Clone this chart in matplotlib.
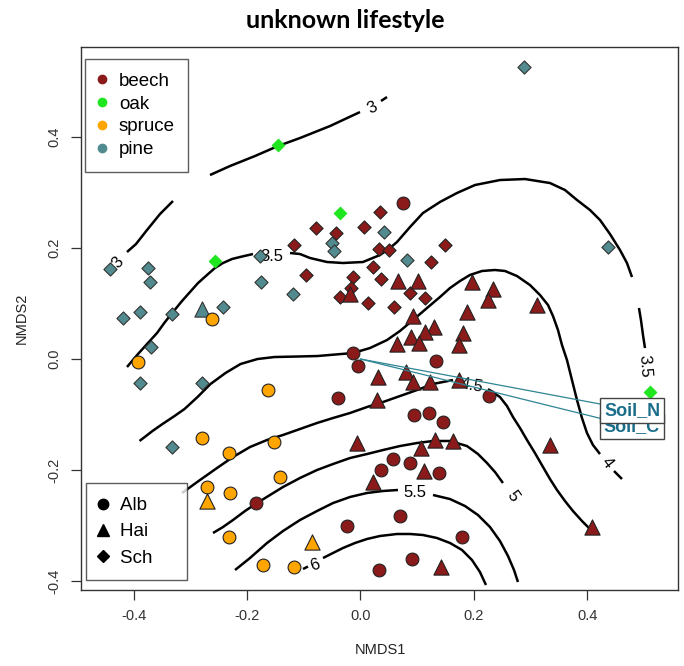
import matplotlib
matplotlib.use('Agg')
import matplotlib.pyplot as plt
from matplotlib.lines import Line2D

plt.rcParams['font.family'] = ['Liberation Sans', 'DejaVu Sans']

# NMDS site scores, by tree species and region (Alb = circle, Hai = triangle, Sch = diamond)
beech_alb_x = [0.075, -0.013, -0.004, 0.134, 0.227, 0.094, 0.121, 0.145, -0.039, 0.087,
               0.139, 0.057, 0.037, -0.184, 0.070, -0.023, 0.091, 0.032, 0.179]
beech_alb_y = [0.281, 0.010, -0.013, -0.004, -0.067, -0.101, -0.097, -0.114, -0.071, -0.187,
               -0.206, -0.181, -0.200, -0.259, -0.283, -0.300, -0.360, -0.380, -0.321]
beech_hai_x = [0.067, 0.102, -0.019, 0.196, 0.234, 0.225, 0.311, 0.188, 0.092, 0.129, 0.114,
               0.181, 0.090, 0.103, 0.064, 0.174, 0.031, 0.081, 0.093, 0.123, 0.174, 0.029,
               0.335, 0.106, 0.132, 0.163, 0.112, -0.007, 0.022, 0.142, 0.409]
beech_hai_y = [0.141, 0.141, 0.117, 0.139, 0.126, 0.107, 0.097, 0.085, 0.077, 0.057, 0.048,
               0.046, 0.040, 0.028, 0.027, 0.025, -0.033, -0.024, -0.041, -0.041, -0.037, -0.073,
               -0.155, -0.160, -0.146, -0.148, -0.201, -0.152, -0.221, -0.374, -0.303]
beech_sch_x = [0.034, -0.079, -0.043, 0.007, -0.117, 0.032, 0.051, 0.149, 0.124, -0.097,
               0.022, -0.013, 0.037, -0.017, -0.036, 0.088, 0.114, 0.014, 0.059]
beech_sch_y = [0.265, 0.236, 0.227, 0.238, 0.205, 0.199, 0.197, 0.205, 0.175, 0.151,
               0.165, 0.148, 0.144, 0.128, 0.111, 0.119, 0.110, 0.101, 0.093]
pine_sch_x = [0.289, 0.437, 0.042, -0.051, -0.046, 0.082, -0.120, -0.177, -0.176, -0.243,
              -0.333, -0.390, -0.420, -0.443, -0.376, -0.372, -0.369, -0.390, -0.279, -0.332]
pine_sch_y = [0.526, 0.201, 0.228, 0.209, 0.195, 0.178, 0.118, 0.186, 0.139, 0.094,
              0.081, 0.085, 0.074, 0.162, 0.164, 0.138, 0.021, -0.043, -0.043, -0.159]
pine_hai_x = [-0.279]
pine_hai_y = [0.091]
spruce_alb_x = [-0.262, -0.392, -0.163, -0.280, -0.232, -0.153, -0.142, -0.271, -0.230,
                -0.232, -0.172, -0.117]
spruce_alb_y = [0.072, -0.006, -0.056, -0.143, -0.170, -0.149, -0.213, -0.230, -0.242,
                -0.321, -0.371, -0.374]
spruce_hai_x = [-0.271, -0.086]
spruce_hai_y = [-0.255, -0.329]
oak_sch_x = [-0.145, -0.037, -0.257, 0.511]
oak_sch_y = [0.385, 0.263, 0.177, -0.059]

# fitted environmental vectors
soil_names = ['Soil_C', 'Soil_N']
soil_x = [0.479, 0.480]
soil_y = [-0.121, -0.092]

# ordisurf contour pieces (x list, y list)
contours = [
    ([-0.2657, -0.2304, -0.1862, -0.1456, -0.1068, -0.0538, -0.0009],
     [0.3315, 0.3477, 0.3658, 0.3838, 0.3982, 0.4198, 0.4450]),
    ([0.0362, 0.0468], [0.4649, 0.4721]),
    ([-0.3310, -0.3539, -0.3769, -0.3963, -0.4122],
     [0.2847, 0.2613, 0.2324, 0.2072, 0.1928]),
    ([-0.4122, -0.3928, -0.3769, -0.3592, -0.3451, -0.3310, -0.3151, -0.3010, -0.2868,
      -0.2710, -0.2569, -0.2427, -0.2268, -0.2127, -0.1898],
     [-0.0144, 0.0090, 0.0270, 0.0468, 0.0667, 0.0847, 0.1045, 0.1207, 0.1369,
      0.1514, 0.1640, 0.1730, 0.1802, 0.1838, 0.1892]),
    ([-0.1244, -0.1068, -0.0891, -0.0591, -0.0309, 0.0044, 0.0344, 0.0521, 0.0644, 0.0874,
      0.1103, 0.1403, 0.1703, 0.2021, 0.2462, 0.2904, 0.3345, 0.3610, 0.3822, 0.4051,
      0.4228, 0.4404, 0.4581, 0.4704, 0.4793],
     [0.1910, 0.1892, 0.1820, 0.1748, 0.1730, 0.1748, 0.1874, 0.2000, 0.2108, 0.2378,
      0.2631, 0.2829, 0.2991, 0.3135, 0.3225, 0.3243, 0.3171, 0.3045, 0.2865, 0.2685,
      0.2505, 0.2252, 0.1964, 0.1730, 0.1477]),
    ([0.4916, 0.4951, 0.4987, 0.5022], [0.0919, 0.0703, 0.0432, 0.0198]),
    ([-0.3901, -0.3672, -0.3495, -0.3283, -0.3107, -0.2877, -0.2648, -0.2383, -0.2118,
      -0.1818, -0.1518, -0.1112, -0.0759, -0.0132, 0.0168, 0.0468, 0.0697, 0.0927, 0.1174,
      0.1403, 0.1580, 0.1756, 0.1932, 0.2145, 0.2374, 0.2551, 0.2763, 0.2992, 0.3169,
      0.3310, 0.3398, 0.3486, 0.3557, 0.3645, 0.3733, 0.3822, 0.3910, 0.3998, 0.4104,
      0.4228],
     [-0.1477, -0.1297, -0.1171, -0.1027, -0.0901, -0.0685, -0.0450, -0.0252, -0.0090,
      0.0000, 0.0036, 0.0045, 0.0054, 0.0108, 0.0198, 0.0342, 0.0505, 0.0703, 0.0919,
      0.1117, 0.1279, 0.1405, 0.1514, 0.1586, 0.1604, 0.1586, 0.1495, 0.1333, 0.1153,
      0.0973, 0.0775, 0.0523, 0.0252, -0.0018, -0.0378, -0.0739, -0.1063, -0.1333, -0.1550,
      -0.1712]),
    ([0.4475, 0.4616], [-0.2018, -0.2162]),
    ([-0.3151, -0.2833, -0.2533, -0.2251, -0.1951, -0.1650, -0.1368, -0.1068, -0.0768,
      -0.0485, -0.0185, 0.0115, 0.0397, 0.0697, 0.0997, 0.1280, 0.1633],
     [-0.2414, -0.2180, -0.1964, -0.1766, -0.1586, -0.1459, -0.1369, -0.1261, -0.1153,
      -0.1063, -0.0973, -0.0865, -0.0775, -0.0667, -0.0559, -0.0450, -0.0378]),
    ([0.2251, 0.2462, 0.2586, 0.2692, 0.2816, 0.2939, 0.3080, 0.3222, 0.3345, 0.3469,
      0.3610, 0.3751, 0.3910, 0.4051],
     [-0.0541, -0.0685, -0.0847, -0.1045, -0.1243, -0.1459, -0.1694, -0.1946, -0.2162,
      -0.2360, -0.2559, -0.2739, -0.2919, -0.3063]),
    ([-0.2604, -0.2427, -0.2251, -0.2039, -0.1827, -0.1597, -0.1368, -0.1068, -0.0768,
      -0.0485, -0.0185, 0.0115, 0.0397, 0.0697, 0.0997, 0.1280, 0.1580, 0.1880, 0.2074,
      0.2233, 0.2374, 0.2515],
     [-0.3135, -0.3027, -0.2901, -0.2739, -0.2595, -0.2450, -0.2306, -0.2144, -0.2000,
      -0.1892, -0.1784, -0.1712, -0.1640, -0.1568, -0.1514, -0.1477, -0.1477, -0.1568,
      -0.1712, -0.1874, -0.2036, -0.2234]),
    ([-0.2215, -0.1951, -0.1650, -0.1368, -0.1068, -0.0768, -0.0485, -0.0185, 0.0115,
      0.0397, 0.0662],
     [-0.3802, -0.3586, -0.3315, -0.3099, -0.2901, -0.2739, -0.2595, -0.2486, -0.2414,
      -0.2378, -0.2360]),
    ([0.1280, 0.1580, 0.1845, 0.2074, 0.2286, 0.2462, 0.2604, 0.2710, 0.2780],
     [-0.2450, -0.2523, -0.2649, -0.2811, -0.3027, -0.3279, -0.3550, -0.3802, -0.4018]),
    ([-0.1015, -0.0927], [-0.3784, -0.3739]),
    ([-0.0662, -0.0485, -0.0309, -0.0097, 0.0115, 0.0344, 0.0644, 0.0874, 0.1103, 0.1350,
      0.1580, 0.1792, 0.1968, 0.2109, 0.2215],
     [-0.3586, -0.3495, -0.3405, -0.3315, -0.3243, -0.3189, -0.3153, -0.3153, -0.3171,
      -0.3225, -0.3315, -0.3441, -0.3622, -0.3838, -0.4072]),
]

# contour labels: text, x, y, rotation
clabels = ['3', '3', '3.5', '3.5', '4', '4.5', '5', '5.5', '6']
clabel_x = [0.0203, -0.4281, -0.1562, 0.5022, 0.4351, 0.1968, 0.2692, 0.0962, -0.0803]
clabel_y = [0.4523, 0.1730, 0.1856, -0.0126, -0.1874, -0.0486, -0.2468, -0.2414, -0.3712]
clabel_rot = [28, 50, 0, -86, -52, -10, -55, 0, 20]

beech = '#8B1A1A'
oak = '#1FE61F'
spruce = '#FFA500'
pine = '#528B8F'

fig = plt.figure(figsize=(6.84, 6.66), dpi=100)
ax = fig.add_axes([81 / 684, 1 - 590 / 666, 597 / 684, 543 / 666])

for cx, cy in contours:
    ax.plot(cx, cy, color='black', lw=1.8, solid_capstyle='butt', zorder=2)
for lab, lx, ly, rot in zip(clabels, clabel_x, clabel_y, clabel_rot):
    ax.text(lx, ly, lab, fontsize=12, ha='center', va='center', rotation=rot,
            rotation_mode='anchor', zorder=2)

ms_o, ms_t, ms_d = 85, 120, 45
ew = 0.8
ax.scatter(pine_sch_x, pine_sch_y, s=ms_d, marker='D', c=pine, edgecolors='#333', linewidths=ew, zorder=3)
ax.scatter(pine_hai_x, pine_hai_y, s=ms_t, marker='^', c=pine, edgecolors='#333', linewidths=ew, zorder=3)
ax.scatter(oak_sch_x, oak_sch_y, s=40, marker='D', c=oak, edgecolors=oak, linewidths=ew, zorder=3)
ax.scatter(spruce_alb_x, spruce_alb_y, s=ms_o, marker='o', c=spruce, edgecolors='#222', linewidths=ew, zorder=3)
ax.scatter(spruce_hai_x, spruce_hai_y, s=ms_t, marker='^', c=spruce, edgecolors='#222', linewidths=ew, zorder=3)
ax.scatter(beech_sch_x, beech_sch_y, s=ms_d, marker='D', c=beech, edgecolors='#222', linewidths=ew, zorder=3)
ax.scatter(beech_hai_x, beech_hai_y, s=ms_t, marker='^', c=beech, edgecolors='#222', linewidths=ew, zorder=3)
ax.scatter(beech_alb_x, beech_alb_y, s=ms_o, marker='o', c=beech, edgecolors='#222', linewidths=ew, zorder=3)

# envfit arrows
for name, vx, vy in zip(soil_names, soil_x, soil_y):
    ax.plot([0, vx], [0, vy], color='#2E8593', lw=0.9, zorder=4)
for name, vx, vy in zip(soil_names, soil_x, soil_y):
    ax.text(vx, vy, name, ha='center', va='center', fontsize=13, fontweight='bold',
            color='#1B6E8A', zorder=5,
            bbox=dict(boxstyle='square,pad=0.22', fc='white', ec='#444', lw=1))

ax.set_xlim(-0.4934, 0.5605)
ax.set_ylim(-0.4162, 0.5622)
ax.set_xticks([-0.4, -0.2, 0.0, 0.2, 0.4])
ax.set_yticks([-0.4, -0.2, 0.0, 0.2, 0.4])
ax.set_xticklabels(['-0.4', '-0.2', '0.0', '0.2', '0.4'])
ax.set_yticklabels(['-0.4', '-0.2', '0.0', '0.2', '0.4'], rotation=90, va='center')
ax.tick_params(direction='out', length=7, width=0.9, colors='#333', labelsize=10.5, pad=7)
for sp in ax.spines.values():
    sp.set_linewidth(1.0)
    sp.set_color('#333')

species = ['beech', 'oak', 'spruce', 'pine']
species_col = [beech, oak, spruce, pine]
h1 = [Line2D([], [], ls='none', marker='o', ms=6, color=c) for c in species_col]
leg1 = ax.legend(h1, species, loc='upper left', bbox_to_anchor=(0.0067, 0.978),
                 borderaxespad=0, fontsize=13.5, frameon=True, fancybox=False,
                 edgecolor='#333', handlelength=0.34, handletextpad=0.75,
                 labelspacing=0.31, borderpad=0.72)
leg1.get_frame().set_linewidth(1.0)
ax.add_artist(leg1)

regions = ['Alb', 'Hai', 'Sch']
h2 = [Line2D([], [], ls='none', marker=m, ms=s, color='black')
      for m, s in zip(['o', '^', 'D'], [7.5, 8, 6])]
leg2 = ax.legend(h2, [r + '    ' for r in regions], loc='lower left',
                 bbox_to_anchor=(0.0084, 0.018),
                 borderaxespad=0, fontsize=13.5, frameon=True, fancybox=False,
                 edgecolor='#333', handlelength=0.34, handletextpad=0.75,
                 labelspacing=0.49, borderpad=0.72)
leg2.get_frame().set_linewidth(1.0)

fig.text(345 / 684, 1 - 20 / 666, 'unknown lifestyle', ha='center', va='center',
         fontsize=18, fontweight='bold', family=['Lato', 'DejaVu Sans'])
fig.text(380 / 684, 1 - 650 / 666, 'NMDS1', ha='center', va='center', fontsize=10.5, color='#222')
fig.text(22 / 684, 1 - 318 / 666, 'NMDS2', ha='center', va='center', fontsize=10.5,
         rotation=90, color='#222')

fig.savefig('out.png', dpi=100)
